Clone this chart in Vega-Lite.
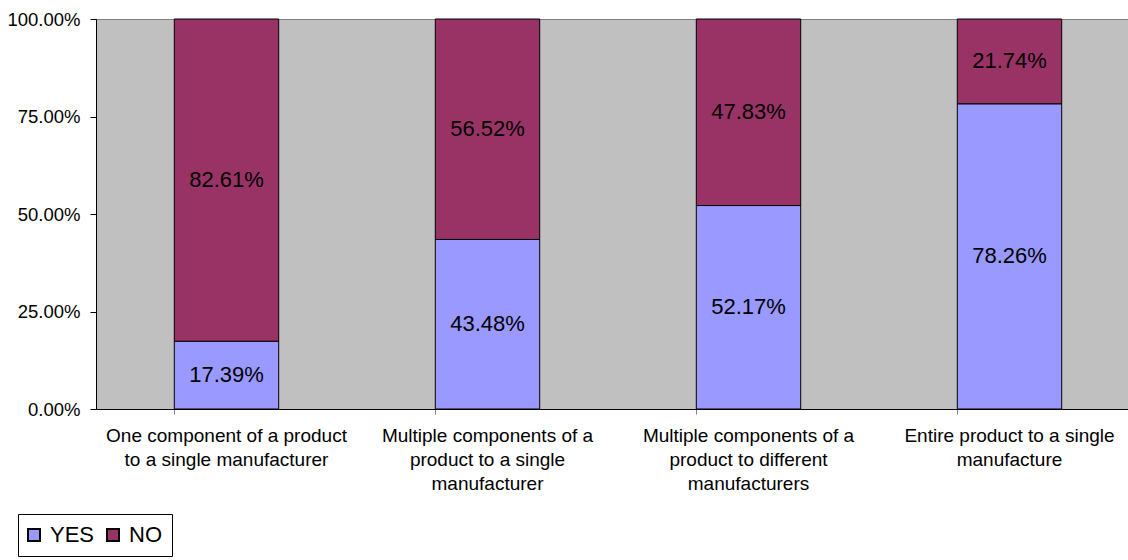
{
  "$schema": "https://vega.github.io/schema/vega-lite/v6.json",
  "width": 1044,
  "height": 390,
  "autosize": {"type": "none"},
  "padding": {"left": 96, "top": 19, "right": -12, "bottom": 151},
  "background": "white",
  "config": {
    "font": "Liberation Sans",
    "view": {"fill": "#C0C0C0", "stroke": null}
  },
  "data": {
    "values": [
      {"category": "One component of a product to a single manufacturer", "series": "YES", "value": 17.39},
      {"category": "One component of a product to a single manufacturer", "series": "NO", "value": 82.61},
      {"category": "Multiple components of a product to a single manufacturer", "series": "YES", "value": 43.48},
      {"category": "Multiple components of a product to a single manufacturer", "series": "NO", "value": 56.52},
      {"category": "Multiple components of a product to different manufacturers", "series": "YES", "value": 52.17},
      {"category": "Multiple components of a product to different manufacturers", "series": "NO", "value": 47.83},
      {"category": "Entire product to a single manufacture", "series": "YES", "value": 78.26},
      {"category": "Entire product to a single manufacture", "series": "NO", "value": 21.74}
    ]
  },
  "transform": [
    {"stack": "value", "groupby": ["category"], "sort": [{"field": "series", "order": "descending"}], "as": ["y0", "y1"]},
    {"calculate": "(datum.y0 + datum.y1) / 2", "as": "ymid"},
    {"calculate": "format(datum.value, '.2f') + '%'", "as": "label"}
  ],
  "encoding": {
    "x": {
      "field": "category",
      "type": "nominal",
      "sort": null,
      "title": null,
      "scale": {"paddingInner": 0.6, "paddingOuter": 0.3},
      "axis": {
        "labelAngle": 0,
        "labelFontSize": 19,
        "labelColor": "black",
        "labelPadding": 12,
        "labelLineHeight": 24,
        "labelLimit": 300,
        "labelExpr": "datum.value == 'One component of a product to a single manufacturer' ? ['One component of a product', 'to a single manufacturer'] : datum.value == 'Multiple components of a product to a single manufacturer' ? ['Multiple components of a', 'product to a single', 'manufacturer'] : datum.value == 'Multiple components of a product to different manufacturers' ? ['Multiple components of a', 'product to different', 'manufacturers'] : ['Entire product to a single', 'manufacture']",
        "bandPosition": 0,
        "tickColor": "#808080",
        "tickSize": 5,
        "domainColor": "black",
        "grid": false
      }
    }
  },
  "layer": [
    {
      "mark": {"type": "bar", "stroke": "black", "strokeWidth": 1},
      "encoding": {
        "y": {
          "field": "y0",
          "type": "quantitative",
          "title": null,
          "scale": {"domain": [0, 100], "nice": false},
          "axis": {
            "values": [0, 25, 50, 75, 100],
            "labelExpr": "format(datum.value, '.2f') + '%'",
            "labelFontSize": 18.5,
            "labelColor": "black",
            "labelPadding": 10,
            "tickColor": "black",
            "tickSize": 6,
            "domainColor": "black",
            "grid": true,
            "gridColor": {"condition": {"test": "datum.value == 100", "value": "#808080"}, "value": "#C0C0C0"},
            "gridOpacity": 1
          }
        },
        "y2": {"field": "y1"},
        "color": {
          "field": "series",
          "type": "nominal",
          "sort": ["YES", "NO"],
          "scale": {"domain": ["YES", "NO"], "range": ["#9999FF", "#993366"]},
          "legend": {
            "title": null,
            "orient": "none",
            "direction": "horizontal",
            "legendX": -78,
            "legendY": 495,
            "symbolType": "square",
            "symbolSize": 144,
            "symbolStrokeColor": "black",
            "symbolStrokeWidth": 2,
            "symbolOffset": -5,
            "labelFontSize": 22,
            "labelColor": "black",
            "labelOffset": 5,
            "columnPadding": 8,
            "strokeColor": "black",
            "padding": 10
          }
        }
      }
    },
    {
      "mark": {"type": "text", "fontSize": 22, "color": "black"},
      "encoding": {
        "y": {"field": "ymid", "type": "quantitative"},
        "text": {"field": "label", "type": "nominal"},
        "detail": {"field": "series"}
      }
    }
  ]
}
